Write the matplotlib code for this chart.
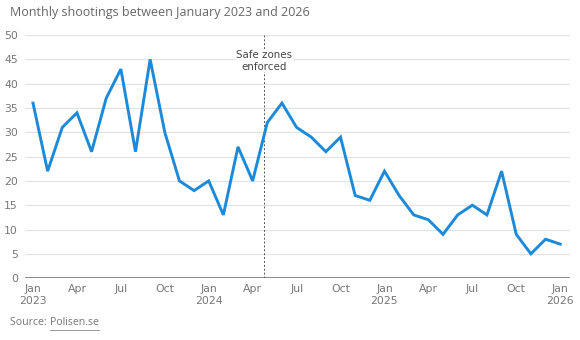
import numpy as np
import matplotlib
matplotlib.use("Agg")
import matplotlib.pyplot as plt

# Data: monthly shootings, Jan 2023 .. Jan 2026
shootings = [36, 22, 31, 34, 26, 37, 43, 26, 45, 30, 20, 18,
             20, 13, 27, 20, 32, 36, 31, 29, 26, 29, 17, 16,
             22, 17, 13, 12, 9, 13, 15, 13, 22, 9, 5, 8, 7]
tick_pos = [0, 3, 6, 9, 12, 15, 18, 21, 24, 27, 30, 33, 36]
tick_labels = ["Jan\n2023", "Apr", "Jul", "Oct", "Jan\n2024", "Apr", "Jul", "Oct",
               "Jan\n2025", "Apr", "Jul", "Oct", "Jan\n2026"]
y_ticks = [0, 5, 10, 15, 20, 25, 30, 35, 40, 45, 50]
event_month = 15.8  # safe zones enforced, late April 2024
event_label = "Safe zones\nenforced"

LINE_COLOR = "#1C8AD9"
GRID_COLOR = "#E3E3E3"
TEXT_COLOR = "#777777"
COND = ["Liberation Sans Narrow", "DejaVu Sans Condensed", "DejaVu Sans"]

fig = plt.figure(figsize=(5.8, 3.4), dpi=100)
ax = fig.add_axes([0.043, 0.182, 0.940, 0.715])

x = np.arange(len(shootings))
ax.plot(x, shootings, color=LINE_COLOR, lw=2.1, solid_joinstyle="miter", zorder=3)

ax.set_xlim(-0.55, 36.68)
ax.set_ylim(0, 50)

# grid lines and baseline
for yv in y_ticks[1:]:
    ax.axhline(yv, color=GRID_COLOR, lw=0.9, zorder=1)
ax.axhline(0, color="#8A8A8A", lw=1.4, zorder=2)

# event marker
ax.axvline(event_month, ymax=1.0, color="#555555", lw=0.7, ls=(0, (2, 2)), zorder=2)
ax.text(event_month, 44.7, event_label, ha="center", va="center",
        fontsize=7.4, color="#444444", family=COND, linespacing=1.2,
        bbox=dict(facecolor="white", edgecolor="none", pad=0.5), zorder=4)

ax.set_xticks(tick_pos)
ax.set_xticklabels(tick_labels, family=COND, fontsize=7.8, color=TEXT_COLOR,
                   linespacing=1.35)
ax.set_yticks(y_ticks)
ax.set_yticklabels([str(v) for v in y_ticks], family=COND, fontsize=7.8,
                   color=TEXT_COLOR)
ax.tick_params(axis="both", length=0)
ax.tick_params(axis="x", pad=4)
ax.tick_params(axis="y", pad=5)
for s in ax.spines.values():
    s.set_visible(False)

fig.text(0.017, 0.962, "Monthly shootings between January 2023 and 2026",
         fontsize=9, color="#666666", family="Open Sans", va="center")
fig.text(0.017, 0.052, "Source: ", fontsize=7.6, color=TEXT_COLOR,
         family="Open Sans", va="center")
fig.text(0.087, 0.052, "Polisen.se", fontsize=7.6, color=TEXT_COLOR,
         family="Open Sans", va="center")
fig.add_artist(plt.Line2D([0.087, 0.170], [0.028, 0.028], color="#999999", lw=0.7))

fig.savefig("out.png", dpi=100)
